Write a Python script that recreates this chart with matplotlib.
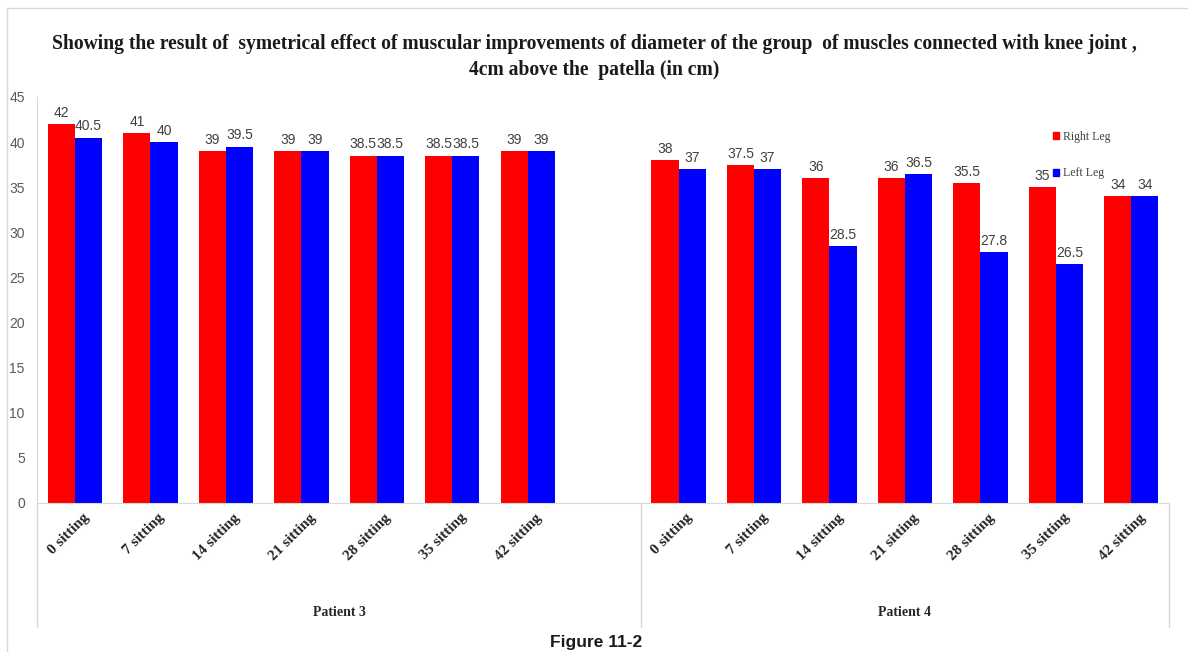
import matplotlib
matplotlib.use("Agg")
import matplotlib.pyplot as plt
from matplotlib.patches import Patch
from matplotlib.lines import Line2D
import numpy as np

# Data
sessions = ["0 sitting", "7 sitting", "14 sitting", "21 sitting",
            "28 sitting", "35 sitting", "42 sitting"]
patients = ["Patient 3", "Patient 4"]
p3_right = [42, 41, 39, 39, 38.5, 38.5, 39]
p3_left = [40.5, 40, 39.5, 39, 38.5, 38.5, 39]
p4_right = [38, 37.5, 36, 36, 35.5, 35, 34]
p4_left = [37, 37, 28.5, 36.5, 27.8, 26.5, 34]

title = ("Showing the result of  symetrical effect of muscular improvements of diameter of the group  of muscles connected with knee joint ,\n"
         "4cm above the  patella (in cm)")

RED = "#FF0000"
BLUE = "#0000FF"
GRID = "#D9D9D9"
LABEL = "#404040"
SERIF = ["Liberation Serif", "DejaVu Serif"]
NARROW = ["Liberation Sans Narrow", "Liberation Sans", "DejaVu Sans"]

W, H = 1188, 652
fig = plt.figure(figsize=(W / 100, H / 100), dpi=100)
ax = fig.add_axes([37.3 / W, (H - 503) / H, (1169 - 37.3) / W, (503 - 97) / H])

# category slots: patient 3 at 0..6, blank slot 7, patient 4 at 8..14
x3 = np.arange(len(sessions))
x4 = np.arange(len(sessions)) + len(sessions) + 1
xs = np.concatenate([x3, x4])
right = p3_right + p4_right
left = p3_left + p4_left
bw = 0.36

br = ax.bar(xs - bw / 2, right, bw, color=RED, label="Right Leg")
bl = ax.bar(xs + bw / 2, left, bw, color=BLUE, label="Left Leg")

for bars, vals in ((br, right), (bl, left)):
    for rect, v in zip(bars, vals):
        ax.annotate(f"{v:g}", (rect.get_x() + rect.get_width() / 2, v),
                    xytext=(0, 3), textcoords="offset points",
                    ha="center", va="bottom", fontsize=10,
                    color=LABEL, family=NARROW)

n_slots = 2 * len(sessions) + 1
ax.set_xlim(-0.5, n_slots - 0.5)
ax.set_ylim(0, 45)
ax.set_yticks(np.arange(0, 46, 5))
ax.tick_params(axis="y", length=0, pad=9, labelsize=10, labelcolor="#595959")
for lab in ax.get_yticklabels():
    lab.set_family(NARROW)
ax.set_xticks([])

for s in ("top", "right"):
    ax.spines[s].set_visible(False)
ax.spines["left"].set_color(GRID)
ax.spines["bottom"].set_color(GRID)

# rotated session labels
trans = ax.get_xaxis_transform()
for xp, name in zip(xs, sessions * 2):
    ax.text(xp + 0.1, -0.02, name, transform=trans, rotation=45,
            rotation_mode="anchor", ha="right", va="top",
            fontsize=11, fontweight="bold", family=SERIF, color="#262626")

# group dividers and patient labels
y_low = -0.305
for xd in (-0.5, len(sessions) + 0.5, n_slots - 0.5):
    ax.add_line(Line2D([xd, xd], [0, y_low], transform=trans, color=GRID,
                       lw=1.0, clip_on=False))
for name, centre in zip(patients, [(-0.5 + len(sessions) + 0.5) / 2,
                                    (len(sessions) + 0.5 + n_slots - 0.5) / 2]):
    ax.text(centre, -0.27, name, transform=trans, ha="center", va="center",
            fontsize=10, fontweight="bold", family=SERIF, color="#262626")

# legend
handles = [Patch(color=RED), Patch(color=BLUE)]
fig.legend(handles, ["Right Leg", "Left Leg"], loc="upper left",
           bbox_to_anchor=(1042 / W, 1 - 120 / H), frameon=False,
           handlelength=0.55, handleheight=0.55, handletextpad=0.3,
           labelspacing=2.1, prop={"family": SERIF, "size": 8.5},
           labelcolor="#404040")

# title
fig.text(594 / W, 1 - 56.5 / H, title, ha="center", va="center",
         fontsize=14.1, fontweight="bold", family=SERIF, color="#1a1a1a",
         linespacing=1.4)

# outer chart frame (top and left edges)
fig.add_artist(Line2D([7 / W, 1.0], [1 - 8 / H, 1 - 8 / H], transform=fig.transFigure,
                      color=GRID, lw=1.0))
fig.add_artist(Line2D([7 / W, 7 / W], [0, 1 - 8 / H], transform=fig.transFigure,
                      color=GRID, lw=1.0))

fig.text(596 / W, 1 - 643 / H, "Figure 11-2", ha="center", va="center",
         fontsize=12.5, fontweight="bold", family=["Liberation Sans", "DejaVu Sans"],
         color="#1a1a1a")

fig.savefig("out.png", dpi=100)
